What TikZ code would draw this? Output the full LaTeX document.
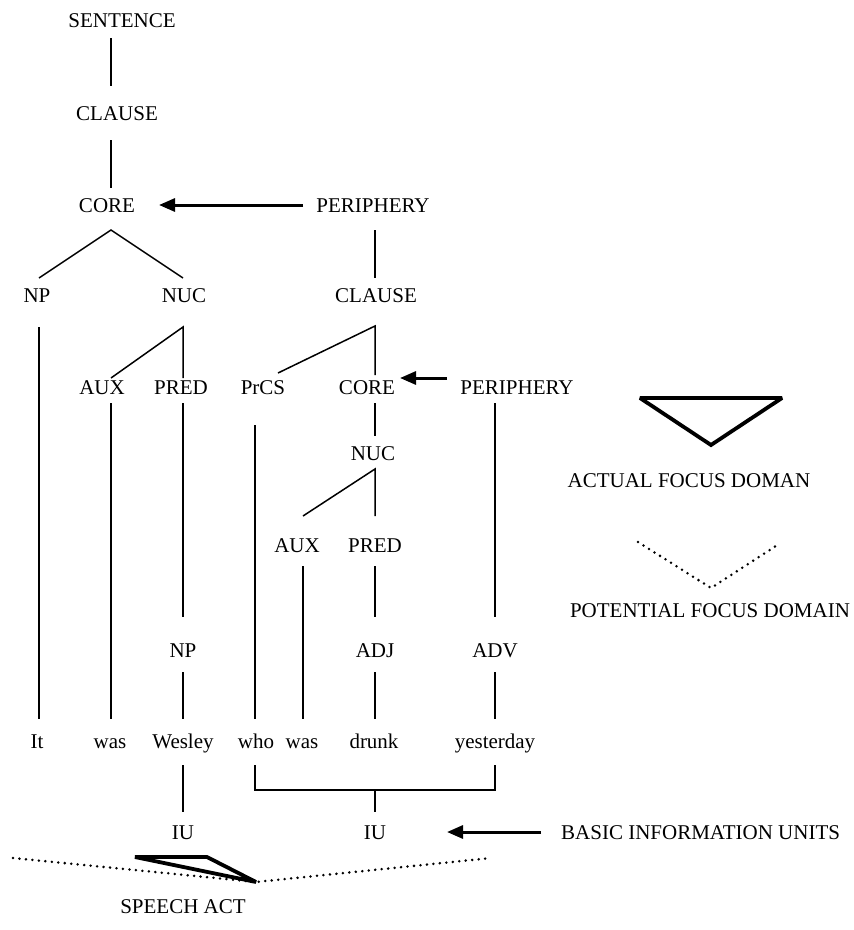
\documentclass[tikz,border=0pt]{standalone}
\usepackage{fontspec}
\setmainfont{Liberation Serif}
\usetikzlibrary{arrows.meta}
\begin{document}
\begin{tikzpicture}[x=1pt,y=-1pt,
  lab/.style={inner sep=0pt,anchor=base,font=\fontsize{21}{25}\selectfont},
  branch/.style={line width=1.5pt},
  heavy/.style={line width=3.8pt,line join=miter,miter limit=2.5},
  pointer/.style={line width=3pt,-{Triangle[length=16pt,width=13pt]}},
  dots/.style={line width=2.8pt,line cap=round,dash pattern=on 0pt off 6.5pt}]
\useasboundingbox (0,0) rectangle (854,930);

% ---- labels ----
\node[lab] (sent) at (122,27) {SENTENCE};
\node[lab] (clA) at (117,120) {CLAUSE};
\node[lab] (coreA) at (107,212) {CORE};
\node[lab] (perA) at (373,212) {PERIPHERY};
\node[lab] (npA) at (37,302) {NP};
\node[lab] (nucA) at (184,302) {NUC};
\node[lab] (clB) at (376,302) {CLAUSE};
\node[lab] (auxA) at (102,394) {AUX};
\node[lab] (predA) at (181,394) {PRED};
\node[lab] (prcs) at (263,394) {PrCS};
\node[lab] (coreB) at (367,394) {CORE};
\node[lab] (perB) at (517,394) {PERIPHERY};
\node[lab] (nucB) at (373,460) {NUC};
\node[lab] (auxB) at (297,552) {AUX};
\node[lab] (predB) at (375,552) {PRED};
\node[lab] (npB) at (183,657) {NP};
\node[lab] (adj) at (375,657) {ADJ};
\node[lab] (adv) at (495,657) {ADV};
\node[lab] (wIt) at (37,748) {It};
\node[lab] (wWas) at (110,748) {was};
\node[lab] (wWes) at (183,748) {Wesley};
\node[lab] (wWho) at (256,748) {who};
\node[lab] (wWasB) at (302,748) {was};
\node[lab] (wDrunk) at (374,748) {drunk};
\node[lab] (wYest) at (495,748) {yesterday};
\node[lab] (iuA) at (183,839) {IU};
\node[lab] (iuB) at (375,839) {IU};
\node[lab] (speech) at (183,913) {SPEECH ACT};
\node[lab,anchor=base west] (biu) at (561,839) {BASIC INFORMATION UNITS};
\node[lab] (afd) at (689,487) {ACTUAL FOCUS DOMAN};
\node[lab] (pfd) at (710,617) {POTENTIAL FOCUS DOMAIN};

% ---- branch end points ----
\coordinate (s1) at (111,38);  \coordinate (s2) at (111,86);
\coordinate (c1) at (111,140); \coordinate (c2) at (111,188);
\coordinate (coreTop) at (111,230);
\coordinate (npTop) at (39,278); \coordinate (nucTop) at (183,278);
\coordinate (perA1) at (375,230); \coordinate (perA2) at (375,278);
\coordinate (nucApex) at (183,327);
\coordinate (auxEnd) at (111,378); \coordinate (predEnd) at (183,378);
\coordinate (clApex) at (375,326);
\coordinate (prcsEnd) at (278,373); \coordinate (coreEnd) at (375,375);
\coordinate (npL1) at (39,327); \coordinate (npL2) at (39,719);
\coordinate (auxL1) at (111,403); \coordinate (auxL2) at (111,719);
\coordinate (predL1) at (183,403); \coordinate (predL2) at (183,617);
\coordinate (prcsL1) at (255,425); \coordinate (prcsL2) at (255,719);
\coordinate (coreL1) at (375,403); \coordinate (coreL2) at (375,436);
\coordinate (perL1) at (495,403); \coordinate (perL2) at (495,617);
\coordinate (nucBApex) at (375,469);
\coordinate (auxBEnd) at (303,516); \coordinate (predBEnd) at (375,516);
\coordinate (auxBL1) at (303,566); \coordinate (auxBL2) at (303,719);
\coordinate (predBL1) at (375,566); \coordinate (predBL2) at (375,617);
\coordinate (npBL1) at (183,672); \coordinate (npBL2) at (183,719);
\coordinate (adjL1) at (375,672); \coordinate (adjL2) at (375,719);
\coordinate (advL1) at (495,672); \coordinate (advL2) at (495,719);
\coordinate (wesL1) at (183,765); \coordinate (wesL2) at (183,812);
\coordinate (brL) at (255,765); \coordinate (brR) at (495,765);
\coordinate (brLb) at (255,790); \coordinate (brRb) at (495,790);
\coordinate (brMid) at (375,790); \coordinate (brStem) at (375,812);
\coordinate (arA1) at (303,205); \coordinate (arA2) at (159,205);
\coordinate (arB1) at (447,378); \coordinate (arB2) at (400,378);
\coordinate (arC1) at (541,832); \coordinate (arC2) at (447,832);

% ---- tree branches ----
\draw[branch] (s1) -- (s2);
\draw[branch] (c1) -- (c2);
\draw[branch] (npTop) -- (coreTop) -- (nucTop);
\draw[branch] (perA1) -- (perA2);
\draw[branch] (auxEnd) -- (nucApex) -- (predEnd);
\draw[branch] (prcsEnd) -- (clApex) -- (coreEnd);
\draw[branch] (npL1) -- (npL2);
\draw[branch] (auxL1) -- (auxL2);
\draw[branch] (predL1) -- (predL2);
\draw[branch] (prcsL1) -- (prcsL2);
\draw[branch] (coreL1) -- (coreL2);
\draw[branch] (perL1) -- (perL2);
\draw[branch] (auxBEnd) -- (nucBApex) -- (predBEnd);
\draw[branch] (auxBL1) -- (auxBL2);
\draw[branch] (predBL1) -- (predBL2);
\draw[branch] (npBL1) -- (npBL2);
\draw[branch] (adjL1) -- (adjL2);
\draw[branch] (advL1) -- (advL2);
\draw[branch] (wesL1) -- (wesL2);
\draw[branch] (brL) -- (brLb) -- (brRb) -- (brR);
\draw[branch] (brMid) -- (brStem);

% ---- arrows ----
\draw[pointer] (arA1) -- (arA2);
\draw[pointer] (arB1) -- (arB2);
\draw[pointer] (arC1) -- (arC2);

% ---- focus domains ----
\coordinate (tA) at (135,857); \coordinate (tB) at (207,857); \coordinate (tV) at (256,882);
\coordinate (dL) at (13,858); \coordinate (dR) at (491,858);
\draw[heavy] (tA) -- (tB) -- (tV) -- cycle;
\draw[dots] (dL) -- (tV) -- (dR);

\coordinate (lgA) at (640,398); \coordinate (lgB) at (782,398); \coordinate (lgV) at (711,445);
\draw[heavy] (lgA) -- (lgB) -- (lgV) -- cycle;
\coordinate (ldL) at (638,542); \coordinate (ldV) at (711,588); \coordinate (ldR) at (779,544);
\draw[dots] (ldL) -- (ldV) -- (ldR);
\end{tikzpicture}
\end{document}
